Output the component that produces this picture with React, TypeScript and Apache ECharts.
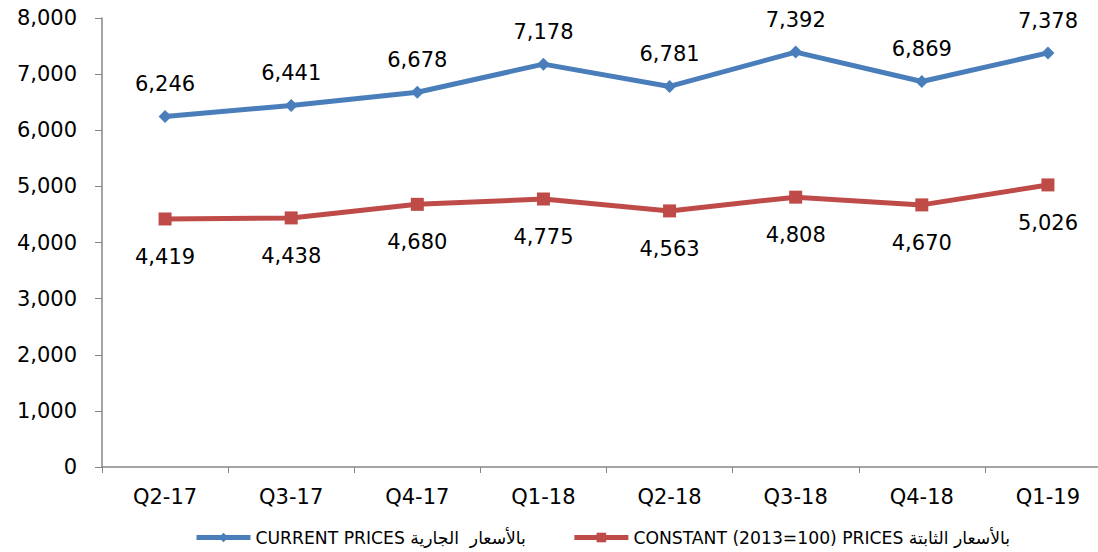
import React, { useEffect, useRef } from "react";
import * as echarts from "echarts";

const categories = ["Q2-17", "Q3-17", "Q4-17", "Q1-18", "Q2-18", "Q3-18", "Q4-18", "Q1-19"];
const currentPrices = [6246, 6441, 6678, 7178, 6781, 7392, 6869, 7378];
const constantPrices = [4419, 4438, 4680, 4775, 4563, 4808, 4670, 5026];
const currentName = "CURRENT PRICES بالأسعار  الجارية";
const constantName = "CONSTANT (2013=100) PRICES بالأسعار الثابتة";

const FONT = "DejaVu Sans";
const fmt = (v: number) => v.toLocaleString("en-US");

export default function App() {
  const ref = useRef<HTMLDivElement>(null);
  useEffect(() => {
    document.body.style.margin = "0";
    const chart = echarts.init(ref.current!, undefined, { renderer: "svg" });
    chart.setOption({
      animation: false,
      backgroundColor: "#ffffff",
      textStyle: { fontFamily: FONT },
      grid: { left: 102, top: 18, bottom: 85, right: 19 },
      legend: {
        bottom: 1,
        left: 189,
        itemWidth: 54,
        itemHeight: 12,
        itemGap: 46,
        lineStyle: { width: 5 },
        textStyle: { fontFamily: FONT, fontSize: 17.2, color: "#000" },
        data: [currentName, constantName],
      },
      xAxis: {
        type: "category",
        data: categories,
        boundaryGap: true,
        axisLine: { lineStyle: { color: "#868686", width: 1.5 } },
        axisTick: { show: true, length: 6, lineStyle: { color: "#868686" } },
        axisLabel: { fontFamily: FONT, fontSize: 21, color: "#000", margin: 19 },
        splitLine: { show: false },
      },
      yAxis: {
        type: "value",
        min: 0,
        max: 8000,
        interval: 1000,
        axisLine: { show: true, lineStyle: { color: "#868686", width: 1.5 } },
        axisTick: { show: true, length: 7, lineStyle: { color: "#868686" } },
        axisLabel: {
          fontFamily: FONT,
          fontSize: 21,
          color: "#000",
          margin: 25,
          formatter: (v: number) => fmt(v),
        },
        splitLine: { show: false },
      },
      series: [
        {
          name: currentName,
          type: "line",
          data: currentPrices,
          symbol: "diamond",
          symbolSize: 13,
          lineStyle: { color: "#4A7EBB", width: 5 },
          itemStyle: { color: "#4A7EBB" },
          label: {
            show: true,
            position: "top",
            distance: 15,
            fontFamily: FONT,
            fontSize: 21,
            color: "#000",
            formatter: (p: any) => fmt(p.value),
          },
        },
        {
          name: constantName,
          type: "line",
          data: constantPrices,
          symbol: "rect",
          symbolSize: 13,
          lineStyle: { color: "#BE4B48", width: 5 },
          itemStyle: { color: "#BE4B48" },
          label: {
            show: true,
            position: "bottom",
            distance: 21,
            fontFamily: FONT,
            fontSize: 21,
            color: "#000",
            formatter: (p: any) => fmt(p.value),
          },
        },
      ],
    });
    return () => chart.dispose();
  }, []);
  return (
    <div style={{ width: 1098, height: 552, overflow: "hidden", position: "relative" }}>
      <div ref={ref} style={{ width: 1130, height: 552 }} />
    </div>
  );
}
